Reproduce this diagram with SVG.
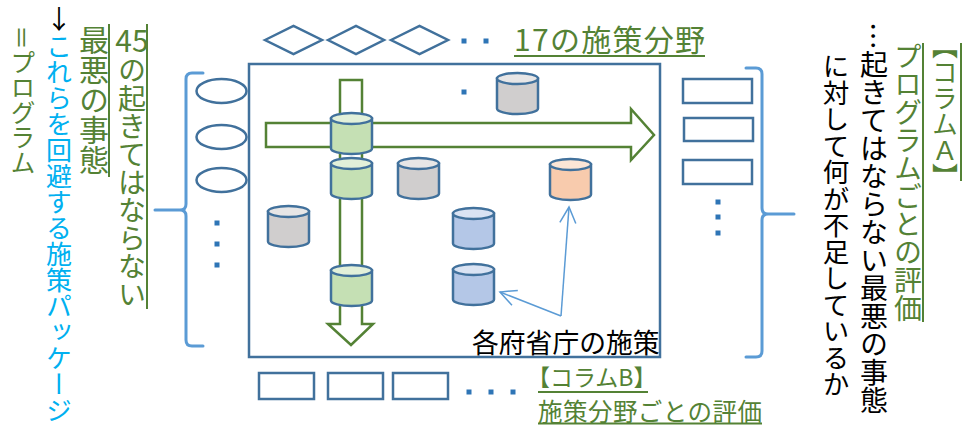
<svg xmlns="http://www.w3.org/2000/svg" xmlns:xlink="http://www.w3.org/1999/xlink" width="962" height="429" viewBox="0 0 962 429">
<style>
text{font-family:"Noto Sans CJK JP","Noto Sans",sans-serif;}
.g{fill:#548235;}
.k{fill:#000;}
.c{fill:#00B0F0;}
.v{writing-mode:vertical-rl;}
.ul{stroke:#548235;stroke-width:2;fill:none;}
.shape{fill:#fff;stroke:#41719C;stroke-width:2.5;}
.dot{fill:#2E75B6;}
.brace{fill:none;stroke:#5B9BD5;stroke-width:3;stroke-linecap:round;stroke-linejoin:round;}
.garrow{fill:#fff;stroke:#548235;stroke-width:2.5;stroke-linejoin:miter;}
.cyl use{stroke:#41719C;stroke-width:2.5;}
.green .b{fill:#C5E0B4;} .green .t{fill:#E2F0D9;}
.gray .b{fill:#D0CECE;} .gray .t{fill:#E7E6E6;}
.orange .b{fill:#F8CBAD;} .orange .t{fill:#FBE5D6;}
.blue .b{fill:#B4C7E7;} .blue .t{fill:#DAE3F3;}
.ptr{fill:none;stroke:#5B9BD5;stroke-width:1.5;}
</style>
<defs>
<path id="cb" d="M0,5.5 V35.5 A20.5,5.5 0 0 0 41,35.5 V5.5 Z"/>
<ellipse id="ct" cx="20.5" cy="5.5" rx="20.5" ry="5.5"/>
<marker id="ah" markerUnits="userSpaceOnUse" markerWidth="20" markerHeight="20" refX="18" refY="10" orient="auto">
<path d="M2,2 L18,10 L2,18" fill="none" stroke="#5B9BD5" stroke-width="1.5"/>
</marker>
</defs>

<!-- left texts -->
<g id="left-texts">
<text class="g" x="132" y="52" font-size="30" text-anchor="middle">45</text>
<text class="g v" x="132" y="56" font-size="28">の起きてはならない</text>
<line class="ul" x1="147" y1="24" x2="147" y2="309"/>
<text class="g v" x="94" y="25" font-size="30">最悪の事態</text>
<line class="ul" x1="109" y1="24" x2="109" y2="177"/>
<text class="k" x="59" y="29" font-size="26" text-anchor="middle">↓</text>
<text class="c v" x="59" y="33" font-size="26">これらを回避する施策パッケージ</text>
<text class="g v" x="23" y="25" font-size="25">＝プログラム</text>
</g>

<!-- right texts -->
<g id="right-texts">
<text class="g v" x="945" y="33" font-size="26">【コラムＡ】</text>
<line class="ul" x1="961" y1="43" x2="961" y2="181"/>
<text class="g v" x="908" y="42" font-size="28">プログラムごとの評価</text>
<line class="ul" x1="923" y1="43" x2="923" y2="322"/>
<text class="k v" x="874" y="22" font-size="28">…起きてはならない最悪の事態</text>
<text class="k v" x="836" y="53" font-size="26.5">に対して何が不足しているか</text>
</g>

<!-- top: policy fields -->
<g id="fields">
<polygon class="shape" points="265,40 293.5,26 322,40 293.5,54"/>
<polygon class="shape" points="328,40 356,26 384,40 356,54"/>
<polygon class="shape" points="391,40 419.5,26 448,40 419.5,54"/>
<rect class="dot" x="461.5" y="38.5" width="5" height="5"/>
<rect class="dot" x="483.5" y="38.5" width="5" height="5"/>
<text class="g" x="514" y="51" font-size="30" textLength="191" lengthAdjust="spacing">17の施策分野</text>
<line class="ul" x1="514" y1="56" x2="705" y2="56"/>
</g>

<!-- main box -->
<g id="main-box">
<rect class="shape" x="249" y="64" width="411" height="293"/>
<rect class="dot" x="461.5" y="89.5" width="5" height="5"/>
<text class="k" x="472" y="353" font-size="26.8">各府省庁の施策</text>
</g>

<!-- left programs -->
<g id="programs">
<ellipse class="shape" cx="221.5" cy="91" rx="25" ry="12"/>
<ellipse class="shape" cx="221.5" cy="137" rx="25" ry="12"/>
<ellipse class="shape" cx="221.5" cy="180" rx="25" ry="12"/>
<rect class="dot" x="214.5" y="220.5" width="5" height="5"/>
<rect class="dot" x="214.5" y="241.5" width="5" height="5"/>
<rect class="dot" x="214.5" y="262.5" width="5" height="5"/>
<path class="brace" d="M203,73 H192 Q186,73 186,79 V204 Q186,210 180,210 H155 M180,210 Q186,210 186,216 V340 Q186,346 192,346 H203"/>
</g>

<!-- right evaluations -->
<g id="evaluations">
<rect class="shape" x="683" y="79" width="69" height="24"/>
<rect class="shape" x="684" y="118" width="69" height="23"/>
<rect class="shape" x="683" y="160" width="69" height="24"/>
<rect class="dot" x="715.5" y="199.5" width="5" height="5"/>
<rect class="dot" x="715.5" y="214.5" width="5" height="5"/>
<rect class="dot" x="715.5" y="230.5" width="5" height="5"/>
<path class="brace" d="M746,68 H756 Q762,68 762,74 V208 Q762,214 768,214 H794 M768,214 Q762,214 762,220 V351 Q762,357 756,357 H746"/>
</g>

<!-- bottom -->
<g id="bottom">
<rect class="shape" x="259" y="373" width="55" height="26"/>
<rect class="shape" x="328" y="373" width="55" height="26"/>
<rect class="shape" x="393" y="373" width="55" height="26"/>
<rect class="dot" x="466.5" y="389.5" width="5" height="5"/>
<rect class="dot" x="488.5" y="389.5" width="5" height="5"/>
<rect class="dot" x="510.5" y="389.5" width="5" height="5"/>
<text class="g" x="527" y="386" font-size="23">【コラムB】</text>
<line class="ul" x1="538" y1="392" x2="648" y2="392"/>
<text class="g" x="538" y="421" font-size="24.5" textLength="224" lengthAdjust="spacing">施策分野ごとの評価</text>
<line class="ul" x1="538" y1="423.5" x2="762" y2="423.5"/>
</g>

<!-- connectors -->
<g id="connectors">
<polygon class="garrow" points="340,80 362,80 362,324 373,324 351,345 328,324 340,324"/>
<polygon class="garrow" points="266,123 631,123 631,109 654,135 631,160 631,147 266,147"/>
<line class="ptr" x1="561" y1="316" x2="500" y2="292" marker-end="url(#ah)"/>
<line class="ptr" x1="561" y1="316" x2="569" y2="207" marker-end="url(#ah)"/>
</g>

<!-- measures (cylinders) -->
<g id="m1" class="cyl green" transform="translate(331,113)"><use href="#cb" class="b"/><use href="#ct" class="t"/></g>
<g id="m2" class="cyl green" transform="translate(331,158)"><use href="#cb" class="b"/><use href="#ct" class="t"/></g>
<g id="m3" class="cyl gray" transform="translate(398,158)"><use href="#cb" class="b"/><use href="#ct" class="t"/></g>
<g id="m4" class="cyl gray" transform="translate(497,73)"><use href="#cb" class="b"/><use href="#ct" class="t"/></g>
<g id="m5" class="cyl orange" transform="translate(550,159)"><use href="#cb" class="b"/><use href="#ct" class="t"/></g>
<g id="m6" class="cyl gray" transform="translate(268,206)"><use href="#cb" class="b"/><use href="#ct" class="t"/></g>
<g id="m7" class="cyl blue" transform="translate(453,208)"><use href="#cb" class="b"/><use href="#ct" class="t"/></g>
<g id="m8" class="cyl blue" transform="translate(453,264)"><use href="#cb" class="b"/><use href="#ct" class="t"/></g>
<g id="m9" class="cyl green" transform="translate(331,265)"><use href="#cb" class="b"/><use href="#ct" class="t"/></g>
</svg>
